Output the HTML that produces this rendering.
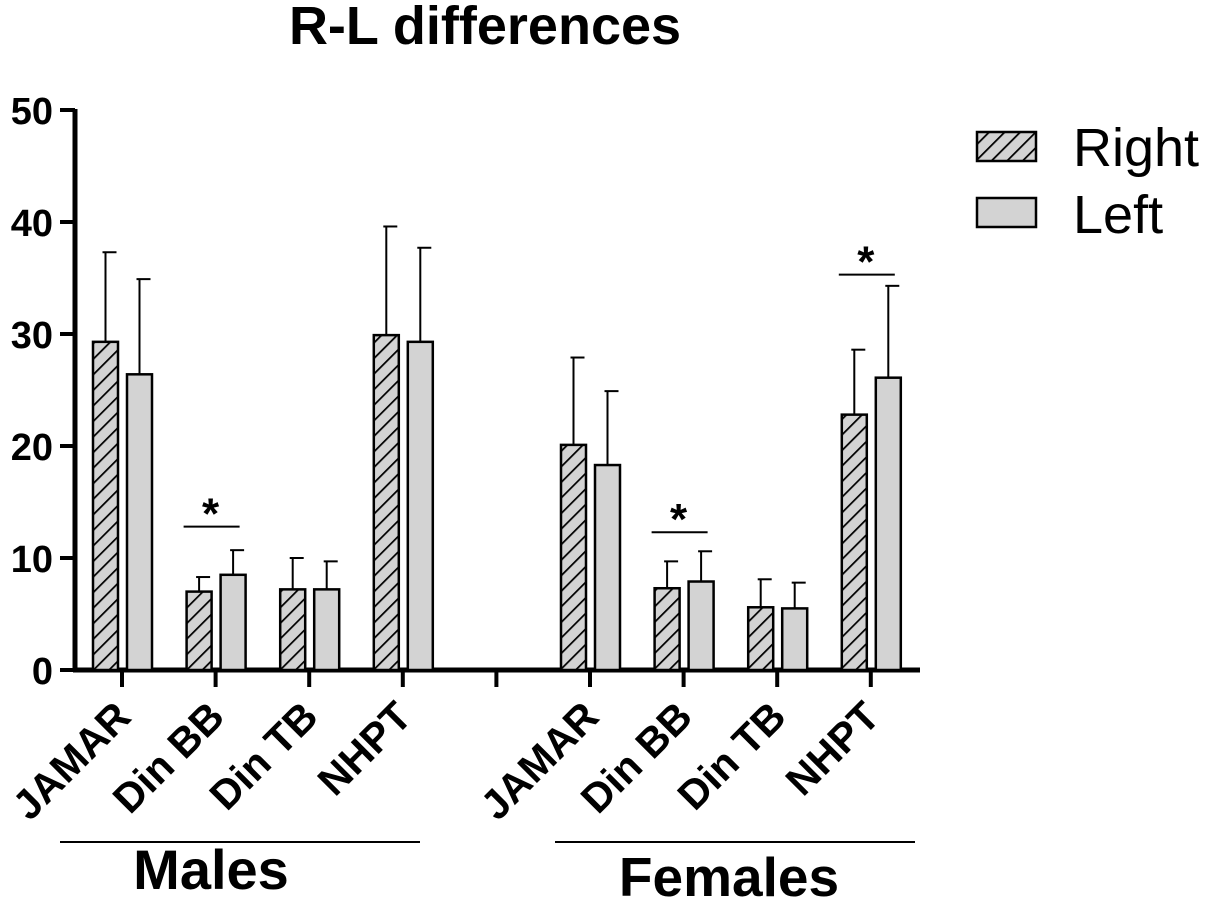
<!DOCTYPE html>
<html><head><meta charset="utf-8"><style>
html,body{margin:0;padding:0;background:#fff;}
svg{display:block;font-family:"Liberation Sans",Arial,sans-serif;}
</style></head><body>
<svg id="chart" width="1205" height="902" viewBox="0 0 1205 902">
<defs>
<pattern id="hatch" patternUnits="userSpaceOnUse" width="11" height="11" patternTransform="rotate(45)">
<rect width="11" height="11" fill="#d3d3d3"/>
<line x1="0" y1="0" x2="0" y2="11" stroke="#000" stroke-width="3.5"/>
</pattern>
</defs>
<text x="485" y="44" font-size="54" font-weight="bold" text-anchor="middle">R-L differences</text>
<g id="axes"></g>
<g id="bars"></g>
<g id="legend">
<rect x="977" y="132" width="59" height="29" fill="url(#hatch)" stroke="#000" stroke-width="2.5"/>
<text x="1073" y="166" font-size="54">Right</text>
<rect x="977" y="198" width="59" height="29" fill="#d3d3d3" stroke="#000" stroke-width="2.5"/>
<text x="1073" y="233" font-size="54">Left</text>
</g>
<line x1="60" y1="842" x2="420" y2="842" stroke="#000" stroke-width="2"/>
<text x="211" y="889" font-size="56" font-weight="bold" text-anchor="middle">Males</text>
<line x1="555" y1="842" x2="915" y2="842" stroke="#000" stroke-width="2"/>
<text x="729" y="896" font-size="55" font-weight="bold" text-anchor="middle">Females</text>
</svg>
<script>
const categories = ["JAMAR","Din BB","Din TB","NHPT","JAMAR","Din BB","Din TB","NHPT"];
const groupSlots = [0,1,2,3,5,6,7,8];
const rightValues = [29.3,7.0,7.2,29.9,20.1,7.3,5.6,22.8];
const rightErrors = [37.3,8.3,10.0,39.6,27.9,9.7,8.1,28.6];
const leftValues = [26.4,8.5,7.2,29.3,18.3,7.9,5.5,26.1];
const leftErrors = [34.9,10.7,9.7,37.7,24.9,10.6,7.8,34.3];
const yTicks = [0,10,20,30,40,50];
const sigCategories = [1,5,7];
const sigHeights = [12.8,12.3,35.3];

const NS="http://www.w3.org/2000/svg";
const axes=document.getElementById('axes');
const barsG=document.getElementById('bars');
function y(v){return 670-v*11.2;}
function xc(slot){return 122+slot*93.6;}
function mk(tag,attrs,parent){const e=document.createElementNS(NS,tag);for(const k in attrs)e.setAttribute(k,attrs[k]);parent.appendChild(e);return e;}

let yl=mk('line',{x1:75,y1:y(50)-1,x2:75,y2:672,stroke:'#000','stroke-width':5},axes);


let xl=mk('line',{x1:73,y1:670,x2:920,y2:670,stroke:'#000','stroke-width':5},axes);


yTicks.forEach(t=>{
  const tk=mk('line',{x1:60,y1:y(t),x2:75,y2:y(t),stroke:'#000','stroke-width':4},axes);
  
  
  const tl=mk('text',{x:53,y:y(t)+14,'font-size':38,'font-weight':'bold','text-anchor':'end'},axes);
  tl.textContent=t;
  
  
});
[0,1,2,3,4,5,6,7,8].forEach(s=>{
  const tk=mk('line',{x1:xc(s),y1:670,x2:xc(s),y2:687,stroke:'#000','stroke-width':4},axes);
  
  
});
categories.forEach((c,i)=>{
  const cx=xc(groupSlots[i]);
  const tl=mk('text',{x:cx+11,y:719,'font-size':41,'font-weight':'bold','text-anchor':'end',transform:`rotate(-45 ${cx+11} 719)`},axes);
  tl.textContent=c;
  
  
});

function bar(x,v,e,fill,name){
  const w=25;
  const el=mk('line',{x1:x+w/2,y1:y(v),x2:x+w/2,y2:y(e),stroke:'#000','stroke-width':2},barsG);
  
  
  const cap=mk('line',{x1:x+w/2-3,y1:y(e),x2:x+w/2+11,y2:y(e),stroke:'#000','stroke-width':2},barsG);
  
  
  const r=mk('rect',{x:x,y:y(v),width:w,height:670-y(v),fill:fill,stroke:'#000','stroke-width':2.5},barsG);
  
  
}
categories.forEach((c,i)=>{
  const cx=xc(groupSlots[i]);
  bar(cx-29,rightValues[i],rightErrors[i],'url(#hatch)','bar-right');
  bar(cx+5,leftValues[i],leftErrors[i],'#d3d3d3','bar-left');
});
sigCategories.forEach((ci,k)=>{
  const cx=xc(groupSlots[ci]);
  const yy=y(sigHeights[k]);
  const l=mk('line',{x1:cx-32,y1:yy,x2:cx+24,y2:yy,stroke:'#000','stroke-width':2},barsG);
  
  
  const s=mk('text',{x:cx-5,y:yy+2,'font-size':44,'font-weight':'bold','text-anchor':'middle'},barsG);
  s.textContent='*';
  
  
});
</script>
</body></html>
